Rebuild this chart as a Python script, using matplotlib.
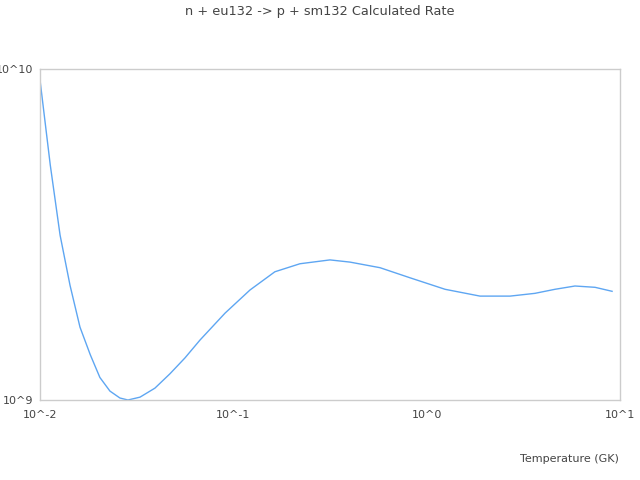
import matplotlib
matplotlib.use("Agg")
import matplotlib.pyplot as plt

# temperature (GK) and rate
temps = [0.01, 0.0113, 0.0127, 0.0143, 0.0161, 0.0182, 0.0204, 0.023, 0.0259,
         0.0285, 0.0329, 0.0393, 0.047, 0.0562, 0.0672, 0.0906, 0.122, 0.164,
         0.221, 0.316, 0.401, 0.574, 0.82, 1.245, 1.888, 2.7, 3.63, 4.61,
         5.85, 7.43, 9.1]
rates = [9.27e9, 5.13e9, 3.15e9, 2.22e9, 1.66e9, 1.37e9, 1.17e9, 1.064e9,
         1.014e9, 1.0e9, 1.02e9, 1.086e9, 1.2e9, 1.34e9, 1.517e9, 1.83e9,
         2.15e9, 2.44e9, 2.58e9, 2.65e9, 2.61e9, 2.51e9, 2.34e9, 2.16e9,
         2.06e9, 2.06e9, 2.10e9, 2.16e9, 2.21e9, 2.19e9, 2.13e9]

fig = plt.figure(figsize=(6.4, 4.8), dpi=100)
ax = fig.add_axes([40 / 640, 80 / 480, 580 / 640, 331 / 480])

ax.plot(temps, rates, color="#5ea6f2", linewidth=1)
ax.set_xscale("log")
ax.set_yscale("log")
ax.set_xlim(0.01, 10)
ax.set_ylim(1e9, 1e10)

ax.set_xticks([0.01, 0.1, 1, 10])
ax.set_xticklabels(["10^-2", "10^-1", "10^0", "10^1"])
ax.set_yticks([1e9, 1e10])
ax.set_yticklabels(["10^9", "10^10"])
ax.minorticks_off()
ax.tick_params(length=0, labelsize=8, colors="#444444", pad=7)
ax.tick_params(axis="y", pad=5)

for s in ax.spines.values():
    s.set_color("#cccccc")
    s.set_linewidth(1)

fig.text(0.5, 1 - 12 / 480, "n + eu132 -> p + sm132 Calculated Rate",
         ha="center", va="center", fontsize=9.3, color="#444444")
fig.text(619 / 640, 1 - 459 / 480, "Temperature (GK)",
         ha="right", va="center", fontsize=8, color="#444444")

fig.savefig("out.png", dpi=100)
